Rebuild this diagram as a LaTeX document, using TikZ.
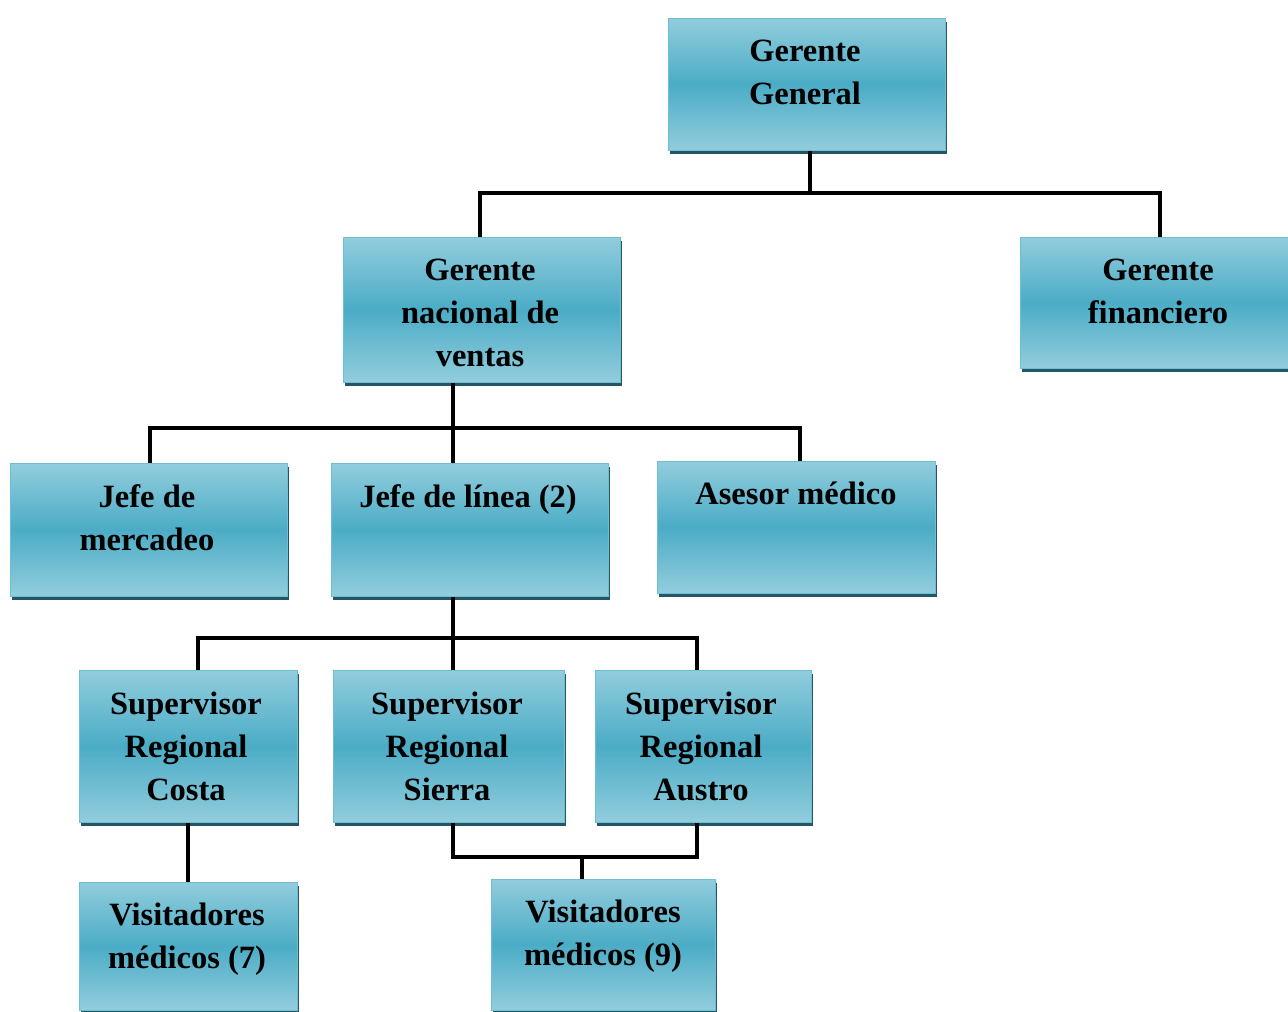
\documentclass[tikz,border=0pt]{standalone}
\usepackage{fontspec}
\setmainfont{Liberation Serif}
\usetikzlibrary{shadows}
\definecolor{boxlight}{RGB}{146,205,221}
\definecolor{boxdark}{RGB}{75,172,198}
\definecolor{boxborder}{RGB}{110,190,212}
\definecolor{shadowc}{RGB}{36,86,100}
\tikzset{
  orgbox/.style={rectangle, draw=boxborder, line width=1pt, top color=boxlight, bottom color=boxlight, middle color=boxdark, inner sep=0pt,
    general shadow={fill=shadowc, shadow xshift=2pt, shadow yshift=-4pt}},
  lbl/.style={anchor=base, align=center, inner sep=0pt, font=\fontsize{32.5}{43}\selectfont\bfseries, text=black},
  conn/.style={draw=black, line width=4pt}
}
\begin{document}
\begin{tikzpicture}[x=1pt,y=-1pt]
\useasboundingbox (0,0) rectangle (1288,1012);
% boxes
\node[orgbox, minimum width=277pt, minimum height=132pt] (gg) at (806.5,84) {};
\node[orgbox, minimum width=277pt, minimum height=145pt] (gnv) at (481.5,309.5) {};
\node[orgbox, minimum width=277pt, minimum height=131pt] (gf) at (1158.5,302.5) {};
\node[orgbox, minimum width=277pt, minimum height=133pt] (jm) at (148.5,529.5) {};
\node[orgbox, minimum width=277pt, minimum height=133pt] (jl) at (469.5,529.5) {};
\node[orgbox, minimum width=278pt, minimum height=132pt] (am) at (796,527) {};
\node[orgbox, minimum width=218pt, minimum height=152pt] (sc) at (188,746) {};
\node[orgbox, minimum width=231pt, minimum height=152pt] (ss) at (448.5,746) {};
\node[orgbox, minimum width=216pt, minimum height=152pt] (sa) at (703,746) {};
\node[orgbox, minimum width=218pt, minimum height=128pt] (v7) at (188,946) {};
\node[orgbox, minimum width=224pt, minimum height=131pt] (v9) at (603,944.5) {};
% labels (base = baseline of last line)
\node[lbl] (gg-t) at (805,104) {Gerente\\General};
\node[lbl] (gnv-t) at (480,366) {Gerente\\nacional de\\ventas};
\node[lbl] (gf-t) at (1158,323) {Gerente\\financiero};
\node[lbl] (jm-t) at (147,550) {Jefe de\\mercadeo};
\node[lbl] (jl-t) at (468,507) {Jefe de línea (2)};
\node[lbl] (am-t) at (796,504) {Asesor médico};
\node[lbl] (sc-t) at (186,800) {Supervisor\\Regional\\Costa};
\node[lbl] (ss-t) at (447,800) {Supervisor\\Regional\\Sierra};
\node[lbl] (sa-t) at (701,800) {Supervisor\\Regional\\Austro};
\node[lbl] (v7-t) at (187,968) {Visitadores\\médicos (7)};
\node[lbl] (v9-t) at (603,965) {Visitadores\\médicos (9)};
% junctions
\coordinate (j1) at (810,193);
\coordinate (j2) at (453,428);
\coordinate (j3) at (453,638);
\coordinate (j4) at (582,857);
% connectors
\draw[conn] (gg.south -| j1) -- (j1);
\draw[conn] ([xshift=-1.5pt]gnv.north) |- (j1) -| ([xshift=1.5pt]gf.north);
\draw[conn] (gnv.south -| j2) -- (jl.north -| j2);
\draw[conn] ([xshift=1.5pt]jm.north) |- (j2) -| ([xshift=4pt]am.north);
\draw[conn] (jl.south -| j3) -- (ss.north -| j3);
\draw[conn] ([xshift=10pt]sc.north) |- (j3) -| ([xshift=-6pt]sa.north);
\draw[conn] (sc.south) -- (v7.north);
\draw[conn] (ss.south -| j3) |- (j4) -| ([xshift=-6pt]sa.south);
\draw[conn] (j4) -- (v9.north -| j4);
\end{tikzpicture}
\end{document}
